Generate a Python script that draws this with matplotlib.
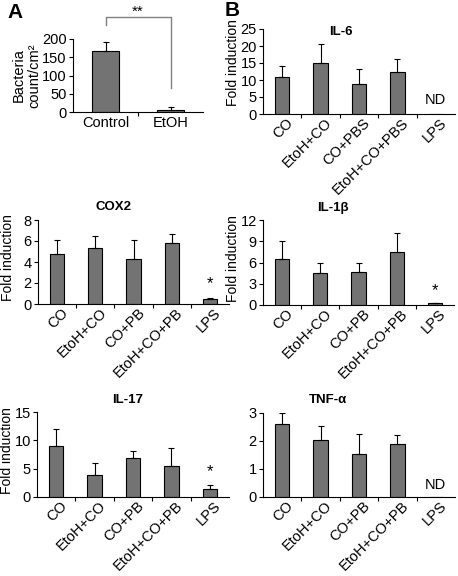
import numpy as np
import matplotlib
matplotlib.use("Agg")
import matplotlib.pyplot as plt
from matplotlib.transforms import ScaledTranslation

plt.rcParams['font.family'] = ['Liberation Sans', 'DejaVu Sans']

# panel A
a_groups = ["Control", "EtOH"]
a_means = [168, 6]
a_errs = [24, 7]

# panel B
b_groups_il6 = ["CO", "EtoH+CO", "CO+PBS", "EtoH+CO+PBS", "LPS"]
b_groups = ["CO", "EtoH+CO", "CO+PB", "EtoH+CO+PB", "LPS"]

il6_means = [11.0, 14.9, 8.8, 12.5, 0]
il6_errs = [3.1, 5.7, 4.3, 3.8, 0]

cox2_means = [4.8, 5.3, 4.3, 5.8, 0.52]
cox2_errs = [1.3, 1.2, 1.8, 0.9, 0.06]

il1b_means = [6.5, 4.5, 4.6, 7.5, 0.3]
il1b_errs = [2.5, 1.5, 1.35, 2.7, 0.05]

il17_means = [9.0, 3.8, 6.85, 5.4, 1.45]
il17_errs = [3.05, 2.25, 1.2, 3.25, 0.75]

tnf_means = [2.6, 2.05, 1.55, 1.9, 0]
tnf_errs = [0.4, 0.48, 0.69, 0.33, 0]

W, H = 458, 576
BAR = "#737373"

fig = plt.figure(figsize=(W / 100, H / 100), dpi=100)


def rect(l, t, r, b):
    return [l / W, 1 - b / H, (r - l) / W, (b - t) / H]


def style(ax, ymax, step):
    for s in ["top", "right"]:
        ax.spines[s].set_visible(False)
    for s in ["left", "bottom"]:
        ax.spines[s].set_linewidth(0.8)
    ax.set_ylim(0, ymax)
    ax.set_yticks(np.arange(0, ymax + step / 2, step))
    ax.tick_params(axis="y", direction="out", length=3, width=0.8, labelsize=10.5, pad=1.5)
    ax.tick_params(axis="x", which="major", length=0)


def panel(ax, groups, means, errs, ymax, step, title, tpos, ylab_y=0.55, ylabel=True):
    x = np.arange(len(groups))
    ax.bar(x, means, width=0.37, color=BAR, edgecolor="black", linewidth=0.8, zorder=2)
    shown = [i for i, m in enumerate(means) if m > 0]
    ax.errorbar(x[shown], np.array(means)[shown],
                yerr=[np.zeros(len(shown)), np.array(errs)[shown]],
                fmt="none", ecolor="black", elinewidth=0.8, capsize=2.5, capthick=0.8, zorder=3)
    ax.set_xlim(-0.5, len(groups) - 0.5)
    style(ax, ymax, step)
    ax.set_xticks(x)
    ax.set_xticklabels(groups, rotation=45, ha="right", va="center",
                       rotation_mode="anchor", fontsize=10.5)
    ax.tick_params(axis="x", which="major", pad=5)
    shift = ScaledTranslation(9 / 100, 0, fig.dpi_scale_trans)
    for lab in ax.get_xticklabels():
        lab.set_transform(lab.get_transform() + shift)
    ax.set_xticks(np.arange(0.5, len(groups) - 1, 1), minor=True)
    ax.tick_params(axis="x", which="minor", direction="out", length=3, width=0.8)
    ax.text(tpos[0], tpos[1], title, transform=ax.transAxes, ha="center",
            va="center", fontsize=9.5, fontweight="bold")
    if ylabel:
        ax.set_ylabel("Fold induction", fontsize=10)
        ax.yaxis.set_label_coords(-0.12, ylab_y)
    return x


# ---- panel A
axA = fig.add_axes(rect(73, 39, 203, 112))
xa = np.arange(len(a_groups))
axA.bar(xa, a_means, width=0.42, color=BAR, edgecolor="black", linewidth=0.8, zorder=2)
axA.errorbar(xa, a_means, yerr=[np.zeros(2), a_errs], fmt="none", ecolor="black",
             elinewidth=0.8, capsize=2.5, capthick=0.8, zorder=3)
axA.set_xlim(-0.5, 1.5)
style(axA, 200, 50)
axA.set_xticks(xa)
axA.set_xticklabels(a_groups, fontsize=10.5)
axA.tick_params(axis="x", which="major", pad=3)
axA.set_xticks([0.5], minor=True)
axA.tick_params(axis="x", which="minor", direction="out", length=3, width=0.8)
axA.set_ylabel("Bacteria\ncount/cm²", fontsize=10.5, linespacing=1.15)
axA.yaxis.set_label_coords(-0.245, 0.5)
axA.plot([0, 0, 1, 1], [238, 260, 260, 66], color="#808080", lw=1, clip_on=False)
axA.text(0.5, 275, "**", ha="center", va="center", fontsize=11, clip_on=False)

# ---- panel B
ax6 = fig.add_axes(rect(263, 29, 455, 114))
x6 = panel(ax6, b_groups_il6, il6_means, il6_errs, 25, 5, "IL-6", (0.406, 0.965), ylab_y=0.6)
ax6.text(x6[4], 4, "ND", ha="center", va="center", fontsize=10.5)

axc = fig.add_axes(rect(38, 220, 229, 304))
xc = panel(axc, b_groups, cox2_means, cox2_errs, 8, 2, "COX2", (0.393, 1.155))
axc.text(xc[4], 1.9, "*", ha="center", va="center", fontsize=12)

ax1 = fig.add_axes(rect(263, 220, 454, 305))
x1 = panel(ax1, b_groups, il1b_means, il1b_errs, 12, 3, "IL-1β", (0.366, 1.14))
ax1.text(x1[4], 2.0, "*", ha="center", va="center", fontsize=12)

ax17 = fig.add_axes(rect(37, 412, 229, 497))
x17 = panel(ax17, b_groups, il17_means, il17_errs, 15, 5, "IL-17", (0.474, 1.14))
ax17.text(x17[4], 4.5, "*", ha="center", va="center", fontsize=12)

axt = fig.add_axes(rect(263, 413, 455, 497))
xt = panel(axt, b_groups, tnf_means, tnf_errs, 3, 1, "TNF-α", (0.34, 1.155), ylabel=False)
axt.text(xt[4], 0.43, "ND", ha="center", va="center", fontsize=10.5)

fig.text(15 / W, 1 - 12 / H, "A", ha="center", va="center", fontsize=15, fontweight="bold")
fig.text(232 / W, 1 - 10 / H, "B", ha="center", va="center", fontsize=15, fontweight="bold")

fig.savefig("out.png", dpi=100)
